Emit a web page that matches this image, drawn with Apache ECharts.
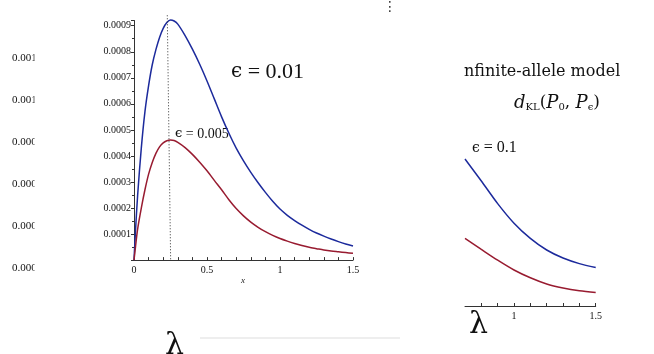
<!DOCTYPE html>
<html><head><meta charset="utf-8">
<script src="https://cdn.jsdelivr.net/npm/echarts@6/dist/echarts.min.js"></script>
<style>html,body{margin:0;padding:0;background:#fff}#c{width:654px;height:354px}</style>
</head><body><div id="c"></div>
<script>
// main panel: curves
var xMain = [0, 0.01, 0.025, 0.05, 0.075, 0.1, 0.125, 0.15, 0.175, 0.2, 0.225, 0.25, 0.275, 0.3, 0.35, 0.4, 0.45, 0.5, 0.55, 0.6, 0.65, 0.7, 0.75, 0.8, 0.85, 0.9, 0.95, 1.0, 1.05, 1.1, 1.15, 1.2, 1.25, 1.3, 1.35, 1.4, 1.45, 1.5];
var blueMain = [0, 0.00011, 0.00025, 0.00043, 0.00057, 0.00067, 0.00075, 0.000808, 0.000855, 0.00089, 0.000912, 0.000922, 0.000918, 0.000906, 0.000862, 0.00081, 0.000752, 0.000688, 0.000619, 0.00055, 0.000487, 0.00043, 0.000381, 0.000337, 0.000297, 0.00026, 0.000226, 0.000196, 0.000172, 0.000152, 0.000134, 0.000118, 0.000104, 0.000092, 0.000081, 0.000071, 0.000062, 0.000054];
var redMain = [0, 0.00005, 0.00012, 0.0002, 0.00027, 0.00033, 0.000375, 0.00041, 0.000435, 0.00045, 0.000458, 0.000461, 0.000459, 0.000452, 0.000432, 0.000406, 0.000376, 0.000343, 0.000306, 0.00027, 0.000232, 0.000198, 0.00017, 0.000146, 0.000126, 0.000109, 0.000095, 0.000083, 0.000073, 0.000064, 0.000056, 0.000049, 0.000044, 0.000039, 0.000035, 0.000032, 0.000029, 0.000026];
var dotX = [0.228, 0.251];
var dotY = [0.00094, 0];
// right panel (lambda axis)
var xRight = [0.7, 0.8, 0.9, 1.0, 1.1, 1.2, 1.3, 1.4, 1.5];
var blueRight = [0.0735, 0.0625, 0.0512, 0.0414, 0.0338, 0.0280, 0.0240, 0.0212, 0.0192];
var redRight = [0.0338, 0.0283, 0.0229, 0.018, 0.0141, 0.0110, 0.0090, 0.0076, 0.0067];
var leftStray = ['0.0012', '0.0010', '0.0008', '0.0006', '0.0004', '0.0002'];
var yTicksLabels = ['0.0001','0.0002','0.0003','0.0004','0.0005','0.0006','0.0007','0.0008','0.0009'];

function pairs(xs, ys){ return xs.map(function(x,i){return [x, ys[i]];}); }
var serif = 'Liberation Serif';
var blue = '#1c2a9c', red = '#981b30';

var graphics = [];
leftStray.forEach(function(t, i){
  graphics.push({type:'text', x:12, y:58 + i*42, z:10, style:{text:t, font:'11px "Liberation Serif"', fill:'#111', verticalAlign:'middle'}});
});
graphics.push({type:'rect', shape:{x:34.5, y:40, width:60, height:240}, style:{fill:'#fff'}, z:11});
graphics = graphics.concat([
  {type:'text', x:231, y:72, style:{verticalAlign:'middle', rich:{e:{font:'20px "DejaVu Serif"', fill:'#111'}, t:{font:'22px "Liberation Serif"', fill:'#111'}}, text:'{e|ϵ}{t| = 0.01}'}},
  {type:'text', x:175, y:134, style:{verticalAlign:'middle', rich:{e:{font:'13px "DejaVu Serif"', fill:'#111'}, t:{font:'14px "Liberation Serif"', fill:'#111'}}, text:'{e|ϵ}{t| = 0.005}'}},
  {type:'text', x:241, y:281, style:{text:'x', font:'italic 9px "Liberation Serif"', fill:'#222', verticalAlign:'middle'}},
  {type:'text', x:464, y:72, style:{text:'nfinite-allele model', font:'16px "DejaVu Serif"', fill:'#111', verticalAlign:'middle'}},
  {type:'text', x:514, y:103, style:{verticalAlign:'middle', rich:{a:{font:'italic 18px "DejaVu Serif"', fill:'#111'}, s:{font:'10px "DejaVu Serif"', fill:'#111', padding:[8,0,0,0]}, b:{font:'17px "DejaVu Serif"', fill:'#111'}}, text:'{a|d}{s|KL}{b|(}{a|P}{s|0}{b|, }{a|P}{s|ϵ}{b|)}'}},
  {type:'text', x:472, y:148, style:{verticalAlign:'middle', rich:{e:{font:'14px "DejaVu Serif"', fill:'#111'}, t:{font:'16px "Liberation Serif"', fill:'#111'}}, text:'{e|ϵ}{t| = 0.1}'}},
  {type:'text', x:469, y:325, style:{text:'λ', font:'30px "DejaVu Serif"', fill:'#111', verticalAlign:'middle'}},
  {type:'text', x:165, y:346, style:{text:'λ', font:'30px "DejaVu Serif"', fill:'#111', verticalAlign:'middle'}},
  {type:'line', shape:{x1:200, y1:338, x2:400, y2:338}, style:{stroke:'#ddd', lineWidth:1}},
  {type:'text', x:383, y:7, style:{text:'⋮', font:'14px "DejaVu Sans"', fill:'#333', verticalAlign:'middle'}}
]);

var chart = echarts.init(document.getElementById('c'), null, {renderer:'canvas'});
chart.setOption({
  animation:false,
  backgroundColor:'#fff',
  grid:[
    {left:134, right:301, top:20.5, bottom:93.9},
    {left:465, right:58.3, top:126, bottom:48}
  ],
  xAxis:[
    {gridIndex:0, type:'value', min:0, max:1.5, interval:0.5,
     axisLine:{lineStyle:{color:'#333', width:1}},
     axisTick:{inside:true, length:3, lineStyle:{color:'#333'}},
     minorTick:{show:true, splitNumber:5, length:3, lineStyle:{color:'#333'}},
     splitLine:{show:false},
     axisLabel:{color:'#111', fontFamily:serif, fontSize:10, margin:5, formatter:function(v){return String(v);}}},
    {gridIndex:1, type:'value', min:0.7, max:1.5, interval:0.1,
     axisLine:{lineStyle:{color:'#333', width:1}},
     axisTick:{inside:true, length:3, lineStyle:{color:'#333'}},
     splitLine:{show:false},
     axisLabel:{color:'#111', fontFamily:serif, fontSize:10, margin:5, showMinLabel:false,
       formatter:function(v){ var r=Math.round(v*10)/10; return (r===1)?'1':(r===1.5?'1.5':''); }}}
  ],
  yAxis:[
    {gridIndex:0, type:'value', min:0, max:0.00092, interval:0.0001,
     axisLine:{show:true, lineStyle:{color:'#333', width:1}},
     axisTick:{show:true, length:3, lineStyle:{color:'#333'}},
     minorTick:{show:true, splitNumber:2, length:2, lineStyle:{color:'#333'}},
     splitLine:{show:false},
     axisLabel:{color:'#111', fontFamily:serif, fontSize:10, margin:3, showMinLabel:false, showMaxLabel:false,
       formatter:function(v){ var k=Math.round(v*10000); return (k>=1 && k<=9)? yTicksLabels[k-1] : ''; }}},
    {gridIndex:1, type:'value', min:0, max:0.09, show:false}
  ],
  series:[
    {type:'line', xAxisIndex:0, yAxisIndex:0, data:pairs(xMain, blueMain), showSymbol:false, smooth:0.3, clip:false, lineStyle:{color:blue, width:1.5}},
    {type:'line', xAxisIndex:0, yAxisIndex:0, data:pairs(xMain, redMain), showSymbol:false, smooth:0.3, clip:false, lineStyle:{color:red, width:1.5}},
    {type:'line', xAxisIndex:0, yAxisIndex:0, data:pairs(dotX, dotY), showSymbol:false, clip:false, lineStyle:{color:'#333', width:1, type:[1,2]}},
    {type:'line', xAxisIndex:1, yAxisIndex:1, data:pairs(xRight, blueRight), showSymbol:false, smooth:0.3, clip:true, lineStyle:{color:blue, width:1.5}},
    {type:'line', xAxisIndex:1, yAxisIndex:1, data:pairs(xRight, redRight), showSymbol:false, smooth:0.3, clip:true, lineStyle:{color:red, width:1.5}}
  ],
  graphic:graphics
});
</script></body></html>
